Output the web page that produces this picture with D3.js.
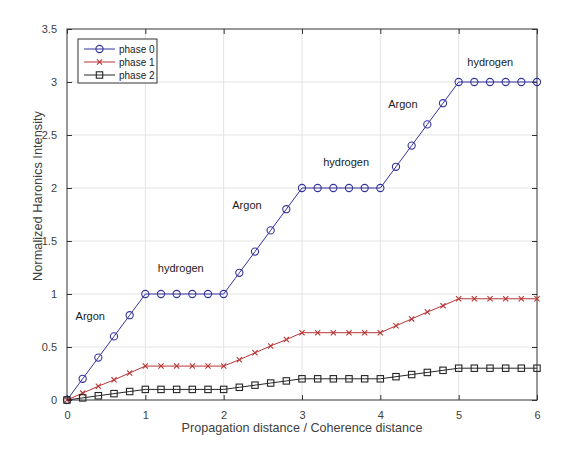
<!DOCTYPE html>
<html>
<head>
<meta charset="utf-8">
<script src="https://cdn.jsdelivr.net/npm/d3@7"></script>
<style>
  body { margin: 0; background: #fff; }
  svg { display: block; font-family: "Liberation Sans", Arial, sans-serif; }
</style>
</head>
<body>
<div id="chart"></div>
<script>
// propagation distance, step 0.2
var xs = [0, 0.2, 0.4, 0.6, 0.8, 1, 1.2, 1.4, 1.6, 1.8, 2, 2.2, 2.4, 2.6, 2.8, 3,
          3.2, 3.4, 3.6, 3.8, 4, 4.2, 4.4, 4.6, 4.8, 5, 5.2, 5.4, 5.6, 5.8, 6];

var phase0 = [0, 0.2, 0.4, 0.6, 0.8, 1, 1, 1, 1, 1, 1, 1.2, 1.4, 1.6, 1.8, 2,
              2, 2, 2, 2, 2, 2.2, 2.4, 2.6, 2.8, 3, 3, 3, 3, 3, 3];
var phase1 = [0, 0.065, 0.13, 0.19, 0.255, 0.32, 0.32, 0.32, 0.32, 0.32, 0.32, 0.38, 0.445, 0.51, 0.57, 0.635,
              0.635, 0.635, 0.635, 0.635, 0.635, 0.7, 0.765, 0.83, 0.89, 0.955, 0.955, 0.955, 0.955, 0.955, 0.955];
var phase2 = [0, 0.02, 0.04, 0.06, 0.08, 0.1, 0.1, 0.1, 0.1, 0.1, 0.1, 0.12, 0.14, 0.16, 0.18, 0.2,
              0.2, 0.2, 0.2, 0.2, 0.2, 0.22, 0.24, 0.26, 0.28, 0.3, 0.3, 0.3, 0.3, 0.3, 0.3];

var seriesNames = ["phase 0", "phase 1", "phase 2"];

var xTicks = [0, 1, 2, 3, 4, 5, 6];
var yTicks = [0, 0.5, 1, 1.5, 2, 2.5, 3, 3.5];

// gas labels placed on the plot
var notes = [
    { text: "Argon", x: 0.11, y: 0.79 },
    { text: "hydrogen", x: 1.16, y: 1.245 },
    { text: "Argon", x: 2.11, y: 1.84 },
    { text: "hydrogen", x: 3.27, y: 2.245 },
    { text: "Argon", x: 4.1, y: 2.79 },
    { text: "hydrogen", x: 5.11, y: 3.19 }
];

var W = 566, H = 456;
var margin = { left: 67, top: 29, right: 29, bottom: 56 };
var w = W - margin.left - margin.right;
var h = H - margin.top - margin.bottom;

var colors = ["#33339c", "#b83535", "#262626"];
var markers = ["circle", "cross", "square"];

var svg = d3.select("#chart").append("svg")
    .attr("width", W)
    .attr("height", H);

var g = svg.append("g")
    .attr("transform", "translate(" + margin.left + "," + margin.top + ")");

var x = d3.scaleLinear().domain([0, 6]).range([0, w]);
var y = d3.scaleLinear().domain([0, 3.5]).range([h, 0]);

// grid
g.append("g").selectAll("line").data(xTicks.slice(1, -1)).enter().append("line")
    .attr("x1", d => x(d)).attr("x2", d => x(d))
    .attr("y1", 0).attr("y2", h)
    .attr("stroke", "#e3e3e3");
g.append("g").selectAll("line").data(yTicks.slice(1, -1)).enter().append("line")
    .attr("y1", d => y(d)).attr("y2", d => y(d))
    .attr("x1", 0).attr("x2", w)
    .attr("stroke", "#e3e3e3");

// axes, ticks point inward like matlab
function styleAxis(sel) {
    sel.select(".domain").remove();
    sel.selectAll(".tick line").attr("stroke", "#333");
    sel.selectAll(".tick text").attr("fill", "#404040").style("font-size", "11px");
}
g.append("g").attr("transform", "translate(0," + h + ")")
    .call(d3.axisBottom(x).tickValues(xTicks).tickSizeInner(-5).tickPadding(11).tickFormat(d3.format("")))
    .call(styleAxis);
g.append("g")
    .call(d3.axisTop(x).tickValues(xTicks).tickSizeInner(-5).tickFormat(""))
    .call(styleAxis);
g.append("g")
    .call(d3.axisLeft(y).tickValues(yTicks).tickSizeInner(-5).tickPadding(10).tickFormat(d3.format("")))
    .call(styleAxis);
g.append("g").attr("transform", "translate(" + w + ",0)")
    .call(d3.axisRight(y).tickValues(yTicks).tickSizeInner(-5).tickFormat(""))
    .call(styleAxis);

g.append("rect")
    .attr("width", w).attr("height", h)
    .attr("fill", "none").attr("stroke", "#333").attr("stroke-width", 1);

// draw a marker at px,py
function drawMarker(sel, type, color, px, py) {
    if (type == "circle") {
        sel.append("circle").attr("cx", px).attr("cy", py).attr("r", 3.6)
            .attr("fill", "none").attr("stroke", color).attr("stroke-width", 1.1);
    } else if (type == "cross") {
        var s = 2.6;
        sel.append("path")
            .attr("d", "M" + (px - s) + "," + (py - s) + "L" + (px + s) + "," + (py + s) +
                       "M" + (px - s) + "," + (py + s) + "L" + (px + s) + "," + (py - s))
            .attr("stroke", color).attr("stroke-width", 1.1);
    } else {
        var s2 = 3.2;
        sel.append("rect").attr("x", px - s2).attr("y", py - s2)
            .attr("width", 2 * s2).attr("height", 2 * s2)
            .attr("fill", "none").attr("stroke", color).attr("stroke-width", 1.1);
    }
}

var line = d3.line().x(d => x(d[0])).y(d => y(d[1]));
var allSeries = [phase0, phase1, phase2];

allSeries.forEach((vals, i) => {
    var pts = xs.map((xv, j) => [xv, vals[j]]);
    var sg = g.append("g");
    sg.append("path").datum(pts)
        .attr("d", line)
        .attr("fill", "none")
        .attr("stroke", colors[i])
        .attr("stroke-width", 1);
    pts.forEach(p => drawMarker(sg, markers[i], colors[i], x(p[0]), y(p[1])));
});

// gas labels
g.selectAll(".note").data(notes).enter().append("text")
    .attr("class", "note")
    .attr("x", d => x(d.x))
    .attr("y", d => y(d.y))
    .attr("dy", "0.35em")
    .style("font-size", "11px")
    .attr("fill", "#1a1a1a")
    .text(d => d.text);

// legend
var lg = g.append("g").attr("transform", "translate(11,10)");
lg.append("rect").attr("width", 79).attr("height", 44)
    .attr("fill", "#fff").attr("stroke", "#333");
seriesNames.forEach((name, i) => {
    var ly = 10 + i * 13;
    lg.append("line").attr("x1", 6).attr("x2", 37).attr("y1", ly).attr("y2", ly)
        .attr("stroke", colors[i]).attr("stroke-width", 1);
    drawMarker(lg, markers[i], colors[i], 21.5, ly);
    lg.append("text").attr("x", 41).attr("y", ly).attr("dy", "0.35em")
        .style("font-size", "10px").attr("fill", "#1a1a1a").text(name);
});

// axis titles
svg.append("text")
    .attr("x", margin.left + w / 2)
    .attr("y", 432)
    .attr("text-anchor", "middle")
    .style("font-size", "12.6px")
    .attr("fill", "#404040")
    .text("Propagation distance / Coherence distance");

svg.append("text")
    .attr("transform", "translate(42,196) rotate(-90)")
    .attr("text-anchor", "middle")
    .style("font-size", "12.8px")
    .attr("fill", "#404040")
    .text("Normalized Haronics Intensity");
</script>
</body>
</html>
